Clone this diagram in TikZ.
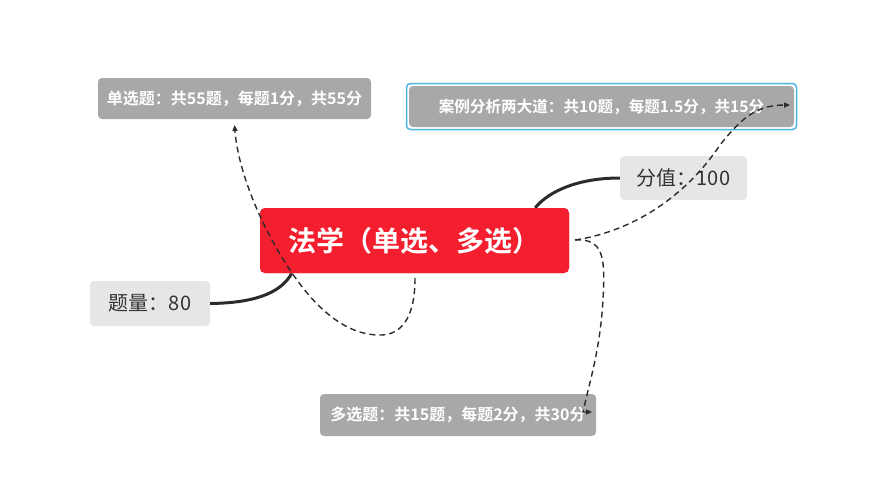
\documentclass[tikz,border=0pt]{standalone}
\usepackage{fontspec}
\setmainfont{Noto Sans CJK SC}
\newfontfamily\cjkb{Noto Sans CJK SC Bold}
\usetikzlibrary{arrows.meta}
\definecolor{mainred}{HTML}{F31E2E}
\definecolor{darkgray}{HTML}{A8A8A8}
\definecolor{lightgray}{HTML}{E6E6E6}
\definecolor{selblue}{HTML}{4DB5E6}
\definecolor{txt}{HTML}{333333}
\definecolor{line}{HTML}{2B2B2B}
\tikzset{
  x=1pt,y=-1pt,
  topic/.style={fill=darkgray,rounded corners=4pt,text=white,font=\cjkb\fontsize{16}{19}\selectfont,inner sep=0pt,anchor=center},
  info/.style={fill=lightgray,rounded corners=4pt,text=txt,font=\fontsize{20}{23}\selectfont,inner sep=0pt,anchor=center},
  mainbox/.style={fill=mainred,rounded corners=5pt,text=white,font=\cjkb\fontsize{28}{32}\selectfont,minimum width=309pt,minimum height=65pt,inner sep=0pt},
  link/.style={draw=line,line width=1.4pt,dash pattern=on 6pt off 4pt,-{Triangle[length=6pt,width=5pt]}},
  branch/.style={draw=line,line width=3pt}
}
\begin{document}
\begin{tikzpicture}
\useasboundingbox (0,0) rectangle (888,488);
% nodes
\node[topic,minimum width=273pt,minimum height=41pt] (single) at (234.5,98.5) {单选题：共55题，每题1分，共55分};
\draw[selblue,line width=1.5pt,rounded corners=4pt] (406.5,83.5) rectangle (796.5,129.5);
\node[topic,font=\cjkb\fontsize{15.6}{19}\selectfont,minimum width=385pt,minimum height=41pt] (case) at (601.5,106.5) {案例分析两大道：共10题，每题1.5分，共15分};
\node[info,minimum width=127pt,minimum height=44pt] (score) at (683.5,178) {分值：100};
\node[mainbox] (main) at (414.5,240.5) {};
\node[info,minimum width=120pt,minimum height=45pt] (count) at (150,303.5) {题量：80};
\node[topic,minimum width=276pt,minimum height=42pt] (multi) at (458,415) {多选题：共15题，每题2分，共30分};
% solid branches
\draw[branch] ([xshift=-34pt]main.north east) .. controls (550,190) and (580,178) .. (score.west);
\draw[branch] (count.east) .. controls (250,303) and (280,295) .. ([xshift=32pt]main.south west);
% main on top of branches
\node[mainbox] at (main.center) {法学（单选、多选）};
% dashed relations
\coordinate (s1) at (415,278);
\draw[link] (s1) .. controls (415,320) and (400,336) .. (378,335)
  .. controls (340,334) and (310,300) .. (290,270)
  .. controls (260,225) and (238,170) .. (single.south |- 0,125);
\coordinate (s2) at (575,240);
\draw[link] (s2) .. controls (640,230) and (690,190) .. (720,145)
  .. controls (740,120) and (755,105) .. (790,105);
\coordinate (s3) at (575,240);
\draw[link] (s3) .. controls (605,238) and (605,260) .. (603,300)
  .. controls (600,350) and (590,380) .. (583,412) -- (592,412);
\end{tikzpicture}
\end{document}
